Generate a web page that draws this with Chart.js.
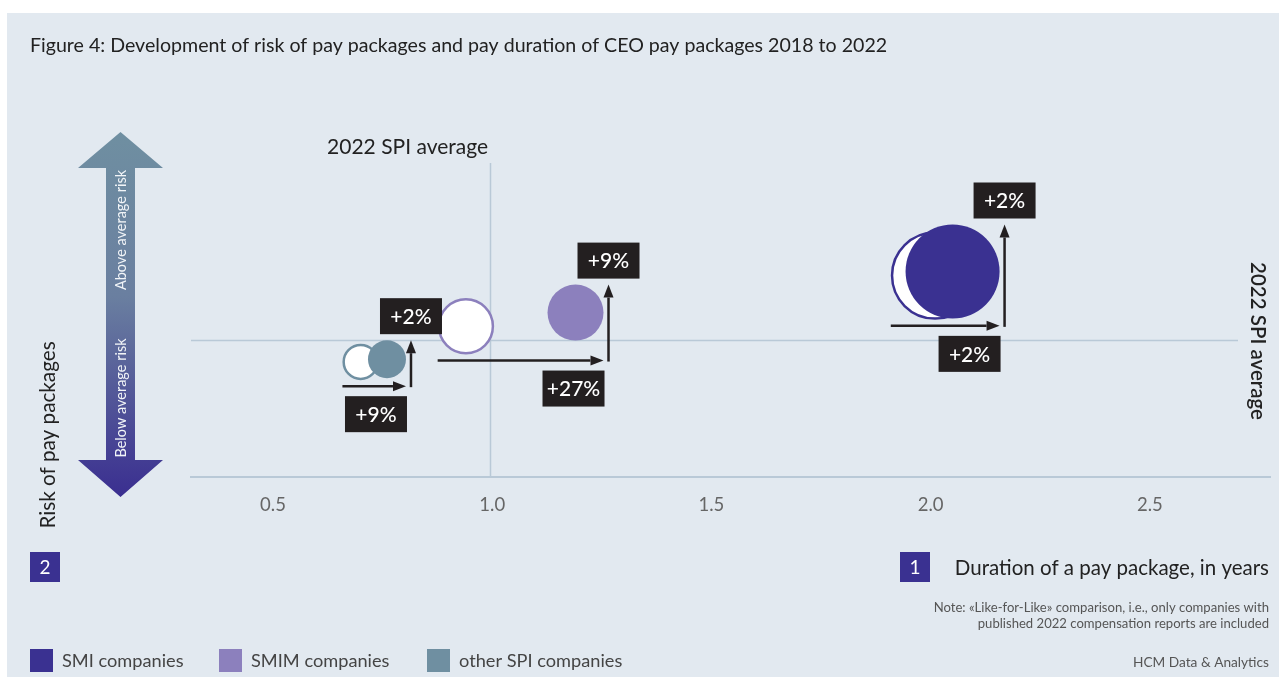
<!DOCTYPE html>
<html lang="en">
<head>
<meta charset="UTF-8">
<title>Risk and duration of CEO pay packages</title>
<script src="https://cdn.jsdelivr.net/npm/chart.js"></script>
<style>
  html, body { margin: 0; padding: 0; background: #fff; }
  canvas { display: block; }
</style>
</head>
<body>
<canvas id="payChart" width="1279" height="682"></canvas>
<script>
// company groups
const groups = ['SMI companies', 'SMIM companies', 'other SPI companies'];
const groupColors = ['#3a3191', '#8c80bd', '#6f8fa1'];

// duration of a pay package, in years
const duration2018 = [2.01, 0.94, 0.70];
const duration2022 = [2.05, 1.19, 0.76];

// risk of pay packages (2022 SPI average = 1.0)
const risk2018 = [1.47, 1.10, 0.84];
const risk2022 = [1.50, 1.20, 0.86];

// bubble radius
const size2018 = [43, 27, 17];
const size2022 = [47, 28, 19];

const xTicks = [0.5, 1.0, 1.5, 2.0, 2.5];
const spiAvgDuration = 0.995;
const spiAvgRisk = 1.0;

const FONT = 'Lato, "Noto Sans", sans-serif';
const LINE = '#b9c9d7';
const INK = '#231f20';

// bubbles without the extra edge padding, so the plot area keeps its fixed size
class PlainBubble extends Chart.BubbleController {
  getMaxOverflow() { return 0; }
}
PlainBubble.id = 'plainBubble';
PlainBubble.defaults = Chart.BubbleController.defaults;
PlainBubble.overrides = Chart.BubbleController.overrides;
Chart.register(PlainBubble);

const pct = (a, b) => '+' + Math.round((b / a - 1) * 100) + '%';

function arrow(ctx, x1, y1, x2, y2) {
  const a = Math.atan2(y2 - y1, x2 - x1);
  const head = 13, half = 5;
  const cx = Math.cos(a), sx = Math.sin(a);
  ctx.beginPath();
  ctx.moveTo(x1, y1);
  ctx.lineTo(x2 - head * cx, y2 - head * sx);
  ctx.stroke();
  ctx.beginPath();
  ctx.moveTo(x2, y2);
  ctx.lineTo(x2 - head * cx + half * sx, y2 - head * sx - half * cx);
  ctx.lineTo(x2 - head * cx - half * sx, y2 - head * sx + half * cx);
  ctx.closePath();
  ctx.fill();
}

function tag(ctx, text, left, top) {
  ctx.fillStyle = INK;
  ctx.fillRect(left, top, 62, 36);
  ctx.fillStyle = '#fff';
  ctx.font = '500 21px ' + FONT;
  ctx.textAlign = 'center';
  ctx.textBaseline = 'middle';
  ctx.fillText(text, left + 31, top + 19);
}

function text(ctx, str, x, y, size, color, align, rot, weight) {
  ctx.save();
  ctx.translate(x, y);
  if (rot) ctx.rotate(rot);
  ctx.font = (weight || 'normal') + ' ' + size + 'px ' + FONT;
  ctx.fillStyle = color;
  ctx.textAlign = align || 'left';
  ctx.textBaseline = 'middle';
  ctx.fillText(str, 0, 0);
  ctx.restore();
}

// panel background and the two SPI average lines
const backdrop = {
  id: 'backdrop',
  beforeDraw(chart) {
    const ctx = chart.ctx;
    ctx.save();
    ctx.fillStyle = '#fff';
    ctx.fillRect(0, 0, chart.width, chart.height);
    ctx.fillStyle = '#e2e9f0';
    ctx.fillRect(7, 13, chart.width - 7, 664);
    ctx.restore();
  },
  beforeDatasetsDraw(chart) {
    const ctx = chart.ctx, x = chart.scales.x, y = chart.scales.y, area = chart.chartArea;
    ctx.save();
    ctx.strokeStyle = LINE;
    ctx.lineWidth = 1.5;
    const vx = Math.round(x.getPixelForValue(spiAvgDuration)) + 0.5;
    ctx.beginPath();
    ctx.moveTo(vx, area.top);
    ctx.lineTo(vx, area.bottom);
    ctx.stroke();
    const hy = Math.round(y.getPixelForValue(spiAvgRisk)) + 0.5;
    ctx.beginPath();
    ctx.moveTo(area.left, hy);
    ctx.lineTo(area.right - 32, hy);
    ctx.stroke();
    ctx.restore();
  }
};

// change arrows and percentage tags for each group
const changes = {
  id: 'changes',
  afterDatasetsDraw(chart) {
    const ctx = chart.ctx, xs = chart.scales.x, ys = chart.scales.y;
    ctx.save();
    ctx.lineWidth = 2.5;
    groups.forEach((g, i) => {
      const x0 = xs.getPixelForValue(duration2018[i]), y0 = ys.getPixelForValue(risk2018[i]);
      const x1 = xs.getPixelForValue(duration2022[i]), y1 = ys.getPixelForValue(risk2022[i]);
      const r0 = size2018[i] + 1.25, r1 = size2022[i];
      const left = Math.min(x0 - r0, x1 - r1);
      const right = x1 + r1;
      const base = Math.max(y0 + r0, y1 + r1) + 6;
      const vx = right + 5;
      const top = y1 - r1;
      ctx.strokeStyle = INK;
      ctx.fillStyle = INK;
      arrow(ctx, left, base, right, base);
      arrow(ctx, vx, base + 1, vx, top);
      tag(ctx, pct(duration2018[i], duration2022[i]), right - 61, base + 10);
      tag(ctx, pct(risk2018[i], risk2022[i]), vx - 31, top - 42);
    });
    ctx.restore();
  }
};

// title, axis captions, risk arrow, legend and notes
const decor = {
  id: 'decor',
  afterDraw(chart) {
    const ctx = chart.ctx;
    text(ctx, 'Figure 4: Development of risk of pay packages and pay duration of CEO pay packages 2018 to 2022', 30, 46, 19.6, '#222');
    const vx = chart.scales.x.getPixelForValue(spiAvgDuration);
    text(ctx, '2022 SPI average', vx - 2, 147, 21, '#222', 'right');
    text(ctx, '2022 SPI average', 1258, 341, 20.5, '#222', 'center', Math.PI / 2, '600');
    text(ctx, 'Risk of pay packages', 48, 435, 20.7, '#222', 'center', -Math.PI / 2);

    // double-headed risk arrow
    ctx.save();
    const grad = ctx.createLinearGradient(0, 132, 0, 497);
    grad.addColorStop(0, '#6f8fa1');
    grad.addColorStop(0.45, '#6a7fa0');
    grad.addColorStop(1, '#3a2e90');
    ctx.fillStyle = grad;
    ctx.beginPath();
    ctx.moveTo(120.5, 132);
    ctx.lineTo(163, 168);
    ctx.lineTo(135, 168);
    ctx.lineTo(135, 460);
    ctx.lineTo(163, 460);
    ctx.lineTo(120.5, 497);
    ctx.lineTo(78, 460);
    ctx.lineTo(106, 460);
    ctx.lineTo(106, 168);
    ctx.lineTo(78, 168);
    ctx.closePath();
    ctx.fill();
    ctx.restore();
    text(ctx, 'Above average risk', 121, 230, 14.5, '#f2f5f8', 'center', -Math.PI / 2);
    text(ctx, 'Below average risk', 121, 398, 14.5, '#f2f5f8', 'center', -Math.PI / 2);

    // numbered axis markers
    ctx.fillStyle = '#3a3191';
    ctx.fillRect(30, 552, 30, 30);
    ctx.fillRect(900, 552, 30, 30);
    text(ctx, '2', 45, 568, 19, '#fff', 'center');
    text(ctx, '1', 915, 568, 19, '#fff', 'center');
    text(ctx, 'Duration of a pay package, in years', 1269, 568, 20.5, '#222', 'right');

    text(ctx, 'Note: «Like-for-Like» comparison, i.e., only companies with', 1269, 608, 13.1, '#555', 'right');
    text(ctx, 'published 2022 compensation reports are included', 1269, 624, 13.1, '#555', 'right');
    text(ctx, 'HCM Data & Analytics', 1269, 663, 13.7, '#555', 'right');

    // legend
    const lx = [30, 219, 427];
    groups.forEach((g, i) => {
      ctx.fillStyle = groupColors[i];
      ctx.fillRect(lx[i], 649, 23, 23);
      text(ctx, g, lx[i] + 32, 661, 18.2, '#444');
    });
  }
};

new Chart(document.getElementById('payChart'), {
  type: 'plainBubble',
  data: {
    datasets: [
      {
        label: '2022',
        data: groups.map((g, i) => ({ x: duration2022[i], y: risk2022[i], r: size2022[i] })),
        backgroundColor: groupColors,
        borderColor: groupColors,
        borderWidth: 0,
        order: 0
      },
      {
        label: '2018',
        data: groups.map((g, i) => ({ x: duration2018[i], y: risk2018[i], r: size2018[i] })),
        backgroundColor: '#ffffff',
        borderColor: groupColors,
        borderWidth: 2.5,
        order: 1
      }
    ]
  },
  options: {
    responsive: false,
    animation: false,
    events: [],
    layout: { padding: { left: 191, right: 9, top: 163, bottom: 163 } },
    plugins: { legend: { display: false }, tooltip: { enabled: false } },
    scales: {
      x: {
        type: 'linear',
        min: 0.313,
        max: 2.774,
        afterBuildTicks: s => { s.ticks = xTicks.map(v => ({ value: v })); },
        afterFit: s => { s.height = 42; },
        ticks: {
          callback: v => v.toFixed(1),
          color: '#666',
          font: { family: FONT, size: 18.5 },
          padding: 17,
          maxRotation: 0
        },
        grid: { display: false, drawTicks: false },
        border: { display: true, color: LINE, width: 2 }
      },
      y: {
        type: 'linear',
        display: false,
        min: 0,
        max: 2.292
      }
    }
  },
  plugins: [backdrop, changes, decor]
});
</script>
</body>
</html>
